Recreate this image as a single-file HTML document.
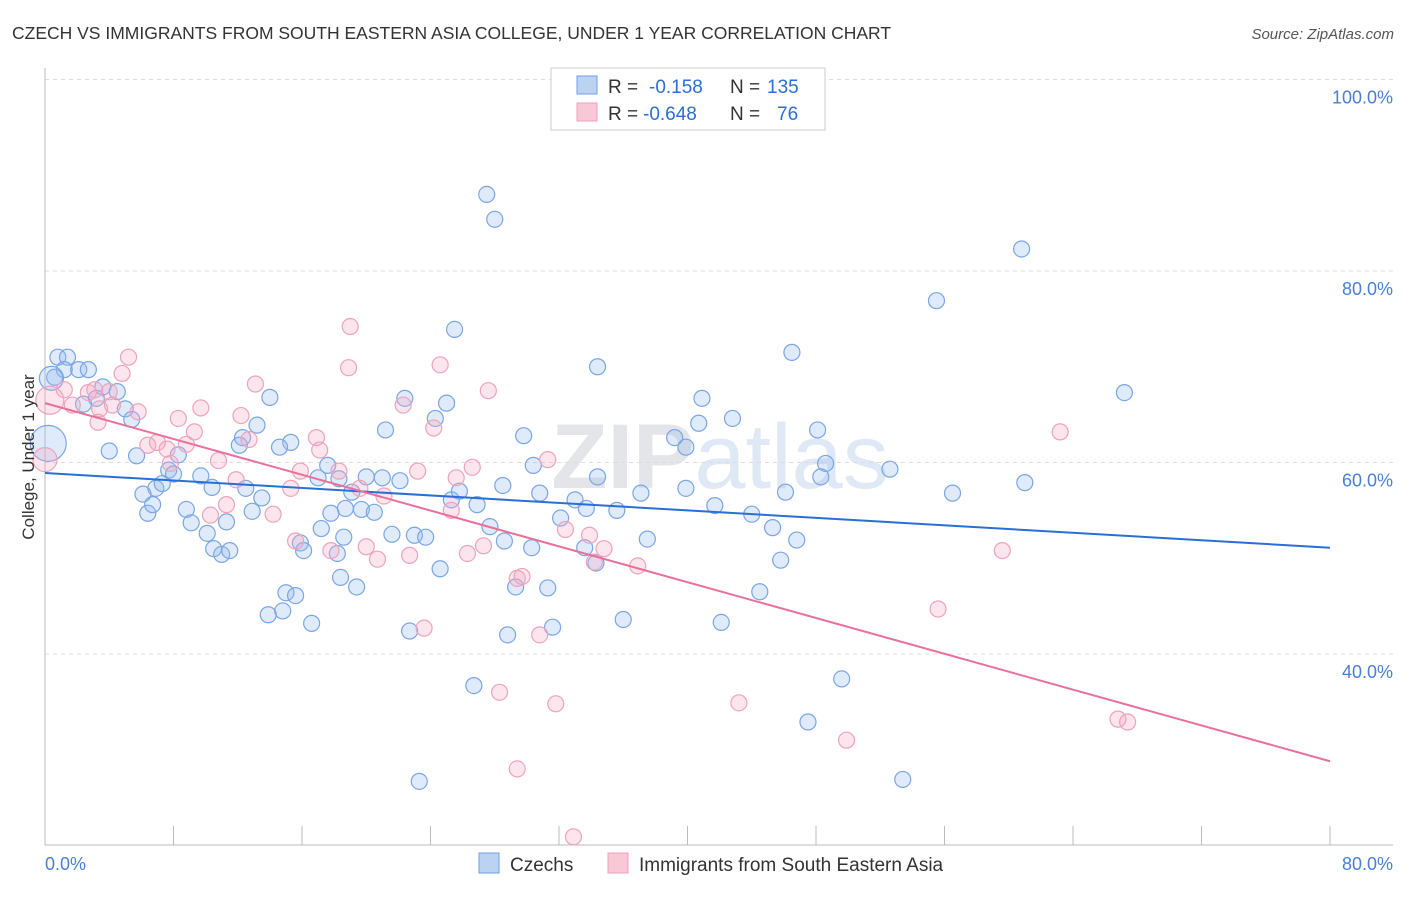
<!DOCTYPE html>
<html><head><meta charset="utf-8"><style>
body{margin:0;background:#fff;font-family:"Liberation Sans",sans-serif;}
svg text{font-family:"Liberation Sans",sans-serif;}
</style></head><body>
<svg id="chart" width="1406" height="892" xmlns="http://www.w3.org/2000/svg">
<text x="12" y="39" font-size="17.5" fill="#333">CZECH VS IMMIGRANTS FROM SOUTH EASTERN ASIA COLLEGE, UNDER 1 YEAR CORRELATION CHART</text>
<text x="1394" y="39" font-size="15" fill="#555" text-anchor="end" font-style="italic">Source: ZipAtlas.com</text>
<text x="720" y="488" font-size="92" text-anchor="middle" fill="#e4e8ee" font-family="Liberation Serif"><tspan font-weight="bold" fill="#e3e5e8">ZIP</tspan><tspan fill="#dfe8f5">atlas</tspan></text>
<g id="grid"></g>
<g id="axes"></g>
<g id="pts"></g>
<g id="lines"></g>
<text transform="translate(34,457) rotate(-90)" font-size="17" fill="#333" text-anchor="middle">College, Under 1 year</text>
<g>
<rect x="551" y="68" width="274" height="62" fill="#fff" stroke="#ccc"/>
<rect x="577" y="76" width="20" height="18" fill="#bcd2f3" stroke="#6f9fe0"/>
<rect x="577" y="103" width="20" height="18" fill="#f8c8d6" stroke="#eea0b8"/>
<text x="608" y="93" font-size="19" fill="#333">R =</text>
<text x="649" y="93" font-size="19" fill="#2a6fd6">-0.158</text>
<text x="730" y="93" font-size="19" fill="#333">N =</text>
<text x="767" y="93" font-size="19" fill="#2a6fd6">135</text>
<text x="608" y="120" font-size="19" fill="#333">R =</text>
<text x="643" y="120" font-size="19" fill="#2a6fd6">-0.648</text>
<text x="730" y="120" font-size="19" fill="#333">N =</text>
<text x="777" y="120" font-size="19" fill="#2a6fd6">76</text>
</g>
<g>
<rect x="479" y="853" width="20" height="20" fill="#bcd2f3" stroke="#6f9fe0"/>
<text x="510" y="871" font-size="19" fill="#333">Czechs</text>
<rect x="608" y="853" width="20" height="20" fill="#f8c8d6" stroke="#eea0b8"/>
<text x="639" y="871" font-size="19" fill="#333">Immigrants from South Eastern Asia</text>
</g>
</svg>
<script>
const czX=[27.5,28.0,60.8,55.5,25.5,46.5,34.4,67.2,0.8,1.4,1.2,2.1,2.7,0.6,3.6,4.5,3.2,2.4,5.0,5.4,14.0,22.4,25.0,24.3,13.2,21.2,15.3,14.6,12.1,12.3,4.0,5.7,8.3,7.7,8.0,9.7,10.4,6.9,7.3,6.1,6.4,6.7,8.8,9.1,10.1,11.3,12.5,13.5,12.9,17.0,17.6,19.1,17.8,18.7,19.7,20.5,18.3,20.0,21.0,22.1,17.2,21.6,23.0,23.7,18.6,15.9,16.1,18.2,10.5,11.0,11.5,18.4,19.4,15.0,15.6,13.9,14.8,16.6,22.7,24.6,25.3,25.8,26.9,27.7,28.5,28.6,30.3,29.3,28.8,31.3,31.6,29.8,30.4,30.8,32.1,33.0,33.7,33.6,34.3,35.6,36.0,37.1,37.5,34.4,39.2,39.9,40.7,40.9,42.8,39.9,41.7,44.0,45.3,45.8,44.5,46.1,46.8,48.1,48.6,48.3,42.1,52.6,56.5,61.0,49.6,47.5,53.4,26.7,23.3,0.2,0.4];
const czY=[88.0,85.4,82.3,76.9,73.9,71.5,70.0,67.3,71.0,71.0,69.7,69.7,69.7,68.9,67.9,67.4,66.7,66.1,65.6,64.5,66.8,66.7,66.2,64.6,63.9,63.4,62.1,61.6,61.8,62.6,61.2,60.7,60.8,59.2,58.8,58.6,57.4,57.3,57.8,56.7,54.7,55.6,55.1,53.7,52.6,53.8,57.3,56.3,54.9,58.4,59.7,56.9,54.7,55.2,55.1,54.8,58.3,58.5,58.4,58.1,53.1,52.5,52.4,52.2,52.2,51.6,50.8,50.5,51.0,50.4,50.8,48.0,47.0,46.4,46.1,44.1,44.5,43.2,42.4,48.9,56.1,57.0,55.6,53.3,57.6,51.8,51.1,47.0,42.0,46.9,42.8,62.8,59.7,56.8,54.2,56.1,55.2,51.1,49.5,55.0,43.6,56.8,52.0,58.5,62.6,61.6,64.1,66.7,64.6,57.3,55.5,54.6,53.2,49.8,46.5,56.9,51.9,63.4,59.9,58.5,43.3,59.3,56.8,57.9,37.4,32.9,26.9,36.7,26.7,62.0,68.8];
const czR=[8,8,8,8,8,8,8,8,8,8,8,8,8,8,8,8,8,8,8,8,8,8,8,8,8,8,8,8,8,8,8,8,8,8,8,8,8,8,8,8,8,8,8,8,8,8,8,8,8,8,8,8,8,8,8,8,8,8,8,8,8,8,8,8,8,8,8,8,8,8,8,8,8,8,8,8,8,8,8,8,8,8,8,8,8,8,8,8,8,8,8,8,8,8,8,8,8,8,8,8,8,8,8,8,8,8,8,8,8,8,8,8,8,8,8,8,8,8,8,8,8,8,8,8,8,8,8,8,8,18,12];
const asX=[19.0,5.2,18.9,24.6,4.8,1.2,2.7,3.1,4.0,1.7,3.4,4.2,5.8,3.3,8.3,9.7,13.1,12.2,12.7,22.3,24.2,27.6,15.9,16.9,17.1,8.8,9.3,6.4,7.0,7.6,7.8,10.8,11.9,10.3,11.3,14.2,15.3,18.3,21.1,23.2,25.6,26.6,25.3,31.3,32.4,33.9,34.8,34.2,36.9,27.3,26.3,22.7,20.7,20.0,17.8,15.6,23.6,28.3,29.4,31.8,32.9,29.4,29.7,30.8,43.2,49.9,55.6,59.6,63.2,66.8,67.4,19.6,0.0,0.3];
const asY=[74.2,71.0,69.9,70.2,69.3,67.6,67.3,67.6,67.4,66.0,65.6,66.0,65.3,64.2,64.6,65.7,68.2,64.9,62.4,66.0,63.6,67.5,59.1,62.6,61.3,61.9,63.2,61.8,62.1,61.4,59.9,60.2,58.2,54.5,55.6,54.6,57.3,59.1,56.5,59.1,58.4,59.5,55.0,60.3,53.0,52.4,51.0,49.6,49.2,51.3,50.5,50.3,49.9,51.2,50.8,51.8,42.7,36.0,28.0,34.8,20.9,47.9,48.1,42.0,34.9,31.0,44.7,50.8,63.2,33.2,32.9,57.3,60.3,66.5];
const asR=[8,8,8,8,8,8,8,8,8,8,8,8,8,8,8,8,8,8,8,8,8,8,8,8,8,8,8,8,8,8,8,8,8,8,8,8,8,8,8,8,8,8,8,8,8,8,8,8,8,8,8,8,8,8,8,8,8,8,8,8,8,8,8,8,8,8,8,8,8,8,8,8,12,14];
const czLine=[58.9,51.1];
const asLine=[66.2,28.8];
const lineX=[0,80];
const yTicks=[40,60,80,100];
const yTickLabels=["40.0%","60.0%","80.0%","100.0%"];
const xTicks=[0,8,16,24,32,40,48,56,64,72,80];

const NS="http://www.w3.org/2000/svg";
const sx=v=>45+v*(1285/80);
const sy=v=>1037-v*9.575;
function mk(tag,attrs,parent){const e=document.createElementNS(NS,tag);for(const k in attrs)e.setAttribute(k,attrs[k]);parent.appendChild(e);return e;}
const grid=document.getElementById('grid'),axes=document.getElementById('axes'),pts=document.getElementById('pts'),lines=document.getElementById('lines');
yTicks.forEach((t,i)=>{
  const g=mk('line',{x1:45,x2:1393,y1:sy(t),y2:sy(t),stroke:'#dcdcdc','stroke-dasharray':'4,4'},grid);
  
  
  const l=mk('text',{x:1393,y:sy(t)+24,'font-size':18,fill:'#4a7fd4','text-anchor':'end'},axes);
  l.textContent=yTickLabels[i];
  
  
});
const ax=mk('line',{x1:45,x2:1393,y1:845,y2:845,stroke:'#bbb'},axes);


const ay=mk('line',{x1:45,x2:45,y1:68,y2:845,stroke:'#bbb'},axes);


xTicks.forEach(t=>{
  const tk=mk('line',{x1:sx(t),x2:sx(t),y1:826,y2:845,stroke:'#bbb'},axes);
  
  
});
const xl0=mk('text',{x:45,y:870,'font-size':18,fill:'#4a7fd4'},axes);xl0.textContent='0.0%';


const xl1=mk('text',{x:1393,y:870,'font-size':18,fill:'#4a7fd4','text-anchor':'end'},axes);xl1.textContent='80.0%';


czX.forEach((x,i)=>{
  const c=mk('circle',{cx:sx(x),cy:sy(czY[i]),r:czR[i],fill:'rgba(150,185,240,0.3)',stroke:'#7aa6e4','stroke-width':1.2},pts);
  
  
});
asX.forEach((x,i)=>{
  const c=mk('circle',{cx:sx(x),cy:sy(asY[i]),r:asR[i],fill:'rgba(245,170,195,0.3)',stroke:'#efa3bb','stroke-width':1.2},pts);
  
  
});
const l1=mk('line',{x1:sx(lineX[0]),y1:sy(czLine[0]),x2:sx(lineX[1]),y2:sy(czLine[1]),stroke:'#2a6fd6','stroke-width':2},lines);


const l2=mk('line',{x1:sx(lineX[0]),y1:sy(asLine[0]),x2:sx(lineX[1]),y2:sy(asLine[1]),stroke:'#e8709a','stroke-width':2},lines);


</script>
</body></html>
